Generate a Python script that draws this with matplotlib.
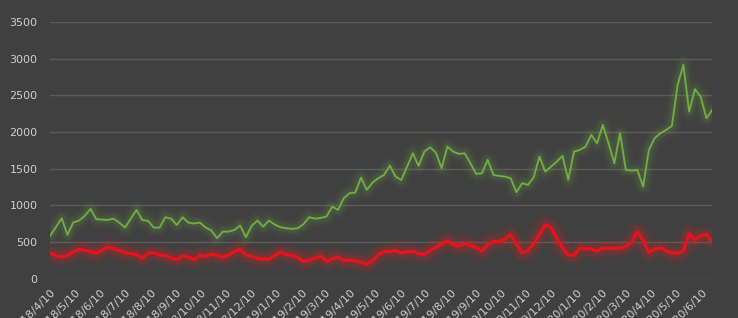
import matplotlib
matplotlib.use("Agg")
import matplotlib.pyplot as plt
import matplotlib.dates as mdates
import numpy as np
import pandas as pd

# weekly dates, starting 2018/4/10
dates = pd.date_range("2018-04-10", periods=116, freq="7D")

green_vals = [
    586, 706, 826, 600, 767, 794, 858, 953, 813, 808,
    803, 820, 767, 699, 820, 940, 803, 790, 699, 699,
    840, 821, 735, 840, 767, 755, 767, 700, 660, 554,
    644, 644, 667, 726, 568, 722, 794, 712, 794, 740,
    704, 690, 681, 690, 745, 840, 821, 830, 850, 985,
    940, 1099, 1167, 1176, 1380, 1212, 1312, 1371, 1416, 1543,
    1393, 1348, 1529, 1711, 1539, 1734, 1793, 1720, 1507, 1802,
    1734, 1702, 1711, 1575, 1430, 1439, 1621, 1416, 1403, 1393,
    1371, 1181, 1303, 1280, 1385, 1666, 1461, 1529, 1598, 1675,
    1348, 1734, 1757, 1802, 1961, 1848, 2097, 1848, 1575, 1984,
    1484, 1475, 1484, 1257, 1757, 1916, 1984, 2029, 2084, 2642,
    2915, 2279, 2583, 2483, 2189, 2302,
]

red_vals = [
    350, 315, 300, 320, 370, 404, 388, 375, 350, 390,
    432, 412, 386, 358, 345, 330, 282, 350, 355, 325,
    320, 285, 260, 312, 297, 262, 322, 305, 335, 320,
    295, 327, 372, 400, 325, 306, 282, 268, 268, 320,
    365, 332, 320, 295, 238, 256, 285, 312, 240, 275,
    295, 250, 258, 245, 225, 200, 250, 330, 372, 372,
    386, 355, 370, 375, 345, 330, 390, 430, 470, 520,
    470, 445, 480, 452, 428, 380, 470, 508, 510, 538,
    599, 480, 355, 385, 480, 610, 735, 700, 550, 420,
    330, 320, 418, 408, 412, 380, 418, 418, 418, 418,
    440, 500, 640, 520, 360, 405, 418, 385, 350, 352,
    380, 615, 525, 590, 600, 508,
]

y_ticks = [0, 500, 1000, 1500, 2000, 2500, 3000, 3500]

bg = "#404040"
fig = plt.figure(figsize=(7.38, 3.18), dpi=100, facecolor=bg)
ax = fig.add_axes([0.068, 0.123, 0.897, 0.808])
ax.set_facecolor(bg)

# soft glow under each line
for lw, a in [(13, 0.035), (9, 0.05), (6, 0.08)]:
    ax.plot(dates, green_vals, color="#7fbf4d", lw=lw, alpha=a, solid_capstyle="round")
    ax.plot(dates, red_vals, color="#ff1a1a", lw=lw + 1.5, alpha=a + 0.03, solid_capstyle="round")
ax.plot(dates, green_vals, color="#6fac43", lw=1.4)
ax.plot(dates, red_vals, color="#e3141b", lw=2.4)

ax.set_ylim(0, 3500)
ax.set_yticks(y_ticks)
ax.set_xlim(dates[0], dates[-1])
ax.xaxis.set_major_locator(mdates.MonthLocator(bymonthday=10))
ax.xaxis.set_major_formatter(
    plt.FuncFormatter(lambda v, p: "{0.year}/{0.month}/{0.day}".format(mdates.num2date(v))))

ax.grid(axis="y", color="#5a5a5a", lw=1)
ax.set_axisbelow(True)
for s in ax.spines.values():
    s.set_visible(False)
ax.tick_params(axis="both", length=0, colors="#cfcfcf", labelsize=8)
ax.tick_params(axis="y", pad=9)
ax.tick_params(axis="x", pad=6)
for lab in ax.get_xticklabels():
    lab.set_rotation(45)
    lab.set_ha("right")
    lab.set_rotation_mode("anchor")

fig.savefig("out.png", dpi=100, facecolor=bg)
